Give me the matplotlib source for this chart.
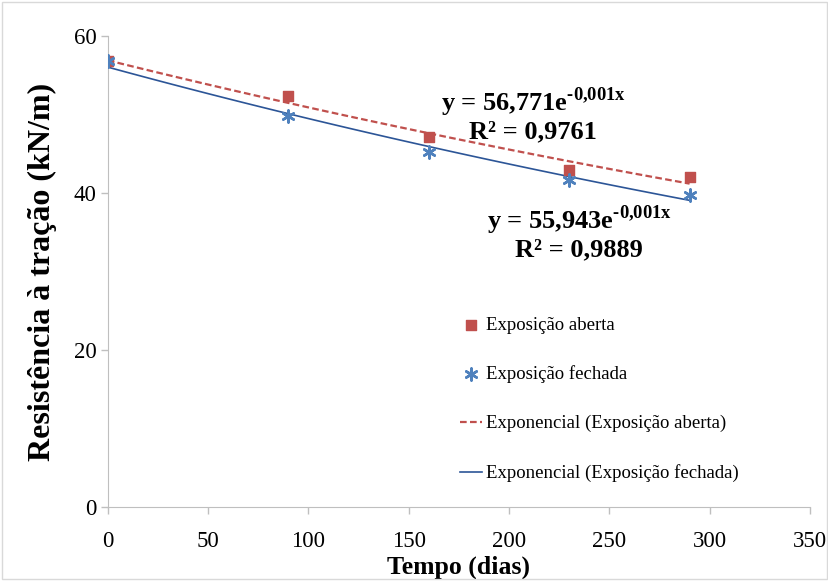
import matplotlib.pyplot as plt
import numpy as np
from matplotlib.patches import Rectangle

plt.rcParams['font.family'] = ['Liberation Serif', 'DejaVu Serif']
plt.rcParams['mathtext.fontset'] = 'custom'
plt.rcParams['mathtext.rm'] = 'Liberation Serif'
plt.rcParams['mathtext.bf'] = 'Liberation Serif:bold'

# dados
tempo = np.array([0, 90, 160, 230, 290])
aberta = np.array([56.8, 52.4, 47.1, 42.9, 42.1])
fechada = np.array([56.8, 49.8, 45.2, 41.7, 39.8])
eq_aberta = 'y = 56,771e$^{\\mathbf{\u20100{,}001x}}$' + '\nR² = 0,9761'
eq_fechada = 'y = 55,943e$^{\\mathbf{\u20100{,}001x}}$' + '\nR² = 0,9889'

red = '#c0504d'
blue = '#4f81bd'
navy = '#2c5597'


def exp_fit(x, y):
    b, lna = np.polyfit(x, np.log(y), 1)
    return np.exp(lna), b


fig = plt.figure(figsize=(8.29, 5.81), dpi=100)
fig.patches.append(Rectangle((0.002, 0.003), 0.996, 0.994, transform=fig.transFigure,
                             fill=False, edgecolor='#d9d9d9', lw=1))
ax = fig.add_axes([0.130, 0.127, 0.847, 0.811])

xx = np.linspace(0, 290, 100)
a1, b1 = exp_fit(tempo, aberta)
a2, b2 = exp_fit(tempo, fechada)

ax.scatter(tempo, aberta, marker='s', s=60, color=red, zorder=3, label='Exposição aberta')
ax.scatter(tempo, fechada, marker=(6, 2, 0), s=75, color=blue, linewidths=1.8, zorder=4,
           label='Exposição fechada')
ax.plot(xx, a1 * np.exp(b1 * xx), '--', color=red, lw=1.6, dashes=(3, 1.5),
        label='Exponencial (Exposição aberta)')
ax.plot(xx, a2 * np.exp(b2 * xx), '-', color=navy, lw=1.2,
        label='Exponencial (Exposição fechada)')

ax.text(212, 50.0, eq_aberta, ha='center', va='center', fontsize=19, fontweight='bold',
        linespacing=1.1)
ax.text(235, 35.0, eq_fechada, ha='center', va='center', fontsize=19, fontweight='bold',
        linespacing=1.1)

ax.set_xlim(0, 350)
ax.set_ylim(0, 60)
ax.set_xticks(np.arange(0, 351, 50))
ax.set_yticks([0, 20, 40, 60])
ax.tick_params(labelsize=16.5, direction='out', length=5, color='#bfbfbf', width=1)
ax.tick_params(axis='x', pad=12)
ax.tick_params(axis='y', pad=3)
for s in ['top', 'right']:
    ax.spines[s].set_visible(False)
for s in ['left', 'bottom']:
    ax.spines[s].set_color('#bfbfbf')
ax.set_xlabel('Tempo (dias)', fontsize=18.5, fontweight='bold', labelpad=3)
ax.set_ylabel('Resistência à tração (kN/m)', fontsize=23, fontweight='bold', labelpad=12)

ax.legend(loc='upper left', bbox_to_anchor=(0.501, 0.405), frameon=False, fontsize=13.5,
          labelspacing=1.7, handlelength=1.2, handletextpad=0.2, borderaxespad=0,
          borderpad=0)

fig.savefig('out.png', dpi=100)
